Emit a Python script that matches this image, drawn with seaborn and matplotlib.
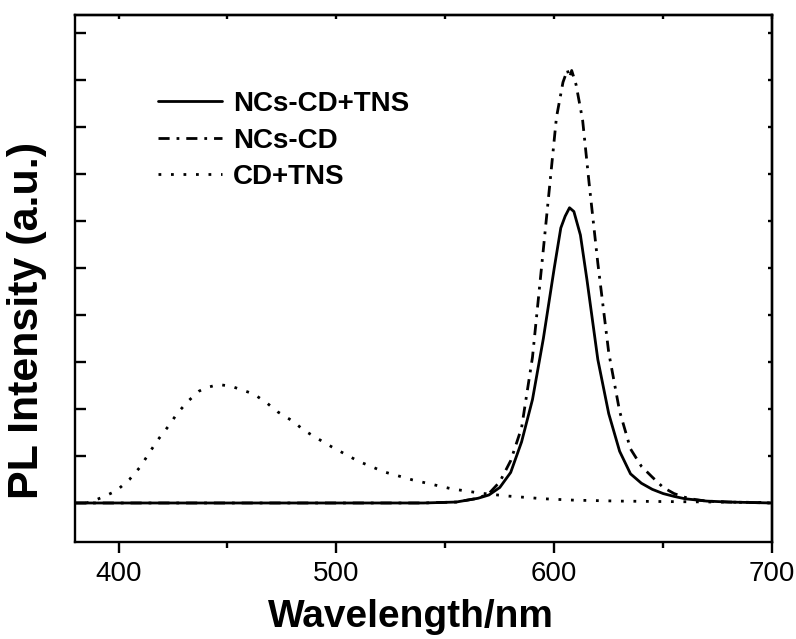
import numpy as np
import pandas as pd
import matplotlib
matplotlib.use("Agg")
import matplotlib.pyplot as plt
import seaborn as sns

# Emission spectra (wavelength in nm, intensity in a.u.)
wl_ncs_cd_tns = [380, 400, 450, 500, 540, 555, 565, 570, 575, 580, 585, 590, 595, 600,
                 603, 605, 607, 609, 612, 615, 620, 625, 630, 635, 640, 645, 650, 655,
                 660, 670, 680, 700]
pl_ncs_cd_tns = [0, 0, 0, 0, 0, 0.02, 0.1, 0.17, 0.33, 0.65, 1.3, 2.2, 3.5, 5.0,
                 5.85, 6.1, 6.28, 6.2, 5.7, 4.75, 3.05, 1.9, 1.1, 0.62, 0.42, 0.29, 0.2, 0.14,
                 0.09, 0.04, 0.02, 0]

wl_ncs_cd = [380, 400, 450, 500, 540, 555, 565, 570, 575, 580, 585, 590, 595, 598,
             601, 604, 606, 607, 608, 610, 613, 616, 620, 625, 630, 635, 640, 645,
             650, 655, 660, 665, 670, 680, 700]
pl_ncs_cd = [0, 0, 0, 0, 0, 0.02, 0.1, 0.2, 0.45, 0.9, 1.6, 3.1, 5.4, 6.8,
             8.2, 8.95, 9.21, 9.05, 9.2, 8.9, 8.15, 6.8, 5.1, 3.2, 1.95, 1.15, 0.78, 0.55,
             0.33, 0.2, 0.12, 0.07, 0.04, 0.02, 0]

wl_cd_tns = [385, 387, 393, 399, 405, 410, 414, 418, 423, 427, 432, 437, 440, 446,
             452, 455, 462, 468, 473, 480, 485, 491, 498, 504, 510, 522, 535, 553,
             566, 578, 595, 609, 630, 651, 700]
pl_cd_tns = [0, 0.02, 0.13, 0.26, 0.5, 0.77, 1.06, 1.34, 1.64, 1.91, 2.17, 2.38, 2.45, 2.52,
             2.48, 2.43, 2.32, 2.13, 1.94, 1.74, 1.55, 1.38, 1.19, 1.04, 0.89, 0.66, 0.49, 0.3,
             0.21, 0.15, 0.09, 0.06, 0.04, 0.03, 0.01]

labels = ["NCs-CD+TNS", "NCs-CD", "CD+TNS"]
x_ticks = [400, 500, 600, 700]

sns.set_theme(style="ticks")
plt.rcParams["font.family"] = ["Liberation Sans", "DejaVu Sans"]
plt.rcParams.update({"text.color": "black", "axes.labelcolor": "black",
                     "xtick.color": "black", "ytick.color": "black"})

fig = plt.figure(figsize=(7.96, 6.39), dpi=100)
ax = fig.add_axes([0.0942, 0.1518, 0.8758, 0.8247])

lw = 2.0
sns.lineplot(x=wl_ncs_cd_tns, y=pl_ncs_cd_tns, ax=ax, color="black", lw=lw,
             linestyle="-", label=labels[0])
sns.lineplot(x=wl_ncs_cd, y=pl_ncs_cd, ax=ax, color="black", lw=lw,
             linestyle=(0, (4, 2.5, 1, 2.5)), label=labels[1])
sns.lineplot(x=wl_cd_tns, y=pl_cd_tns, ax=ax, color="black", lw=lw,
             linestyle=(0, (1, 3.5)), label=labels[2])

ax.set_xlim(380, 700)
ax.set_ylim(-0.83, 10.38)

# bottom axis: outward ticks with labels
ax.set_xticks(x_ticks)
ax.set_xticks(np.arange(450, 701, 100), minor=True)
ax.set_xticklabels([str(t) for t in x_ticks], fontsize=20)
ax.tick_params(axis="x", which="major", direction="out", length=8, width=1.7, pad=6)
ax.tick_params(axis="x", which="minor", direction="out", length=4, width=1.7)

# left axis: inward ticks, no labels
ax.set_yticks(np.arange(0, 11, 1))
ax.set_yticklabels([])
ax.tick_params(axis="y", which="major", direction="in", length=8, width=1.7)

# top and right: short inward ticks
top = ax.secondary_xaxis("top")
top.set_xticks(np.arange(400, 701, 50))
top.set_xticklabels([])
top.tick_params(direction="in", length=3, width=1.7)
right = ax.secondary_yaxis("right")
right.set_yticks(np.arange(0, 11, 1))
right.set_yticklabels([])
right.tick_params(direction="in", length=3, width=1.7)
for a in (ax, top, right):
    for s in a.spines.values():
        s.set_linewidth(1.7)
        s.set_color("black")

ax.set_xlabel("Wavelength/nm", fontsize=28, fontweight="bold")
ax.xaxis.set_label_coords(0.482, -0.108)
ax.set_ylabel("PL Intensity (a.u.)", fontsize=31, fontweight="bold")
ax.yaxis.set_label_coords(-0.040, 0.421)

leg = ax.legend(loc="upper left", bbox_to_anchor=(0.103, 0.877), frameon=False,
                prop={"size": 20, "weight": "bold"}, handlelength=2.3,
                handletextpad=0.4, labelspacing=0.38, borderaxespad=0)

fig.savefig("out.png", dpi=100, facecolor="white")
